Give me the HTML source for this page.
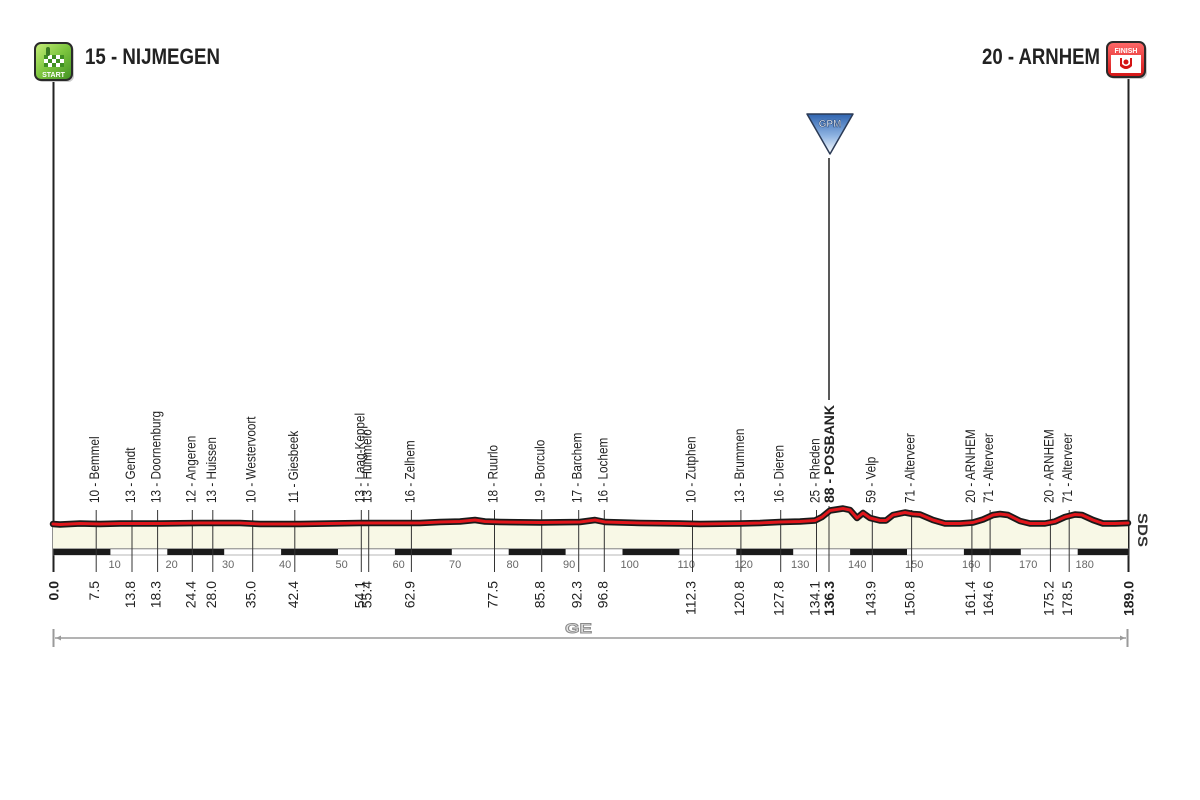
<!DOCTYPE html>
<html>
<head>
<meta charset="utf-8">
<style>
html,body{margin:0;padding:0;background:#fff;}
svg{display:block;}
text{font-family:"Liberation Sans",sans-serif;}
.pn{font-size:14px;fill:#222;}
.nm{font-size:14px;fill:#222;}
.km{font-size:11px;fill:#666;}
</style>
</head>
<body>
<svg width="1200" height="800" viewBox="0 0 1200 800" xmlns="http://www.w3.org/2000/svg">
<defs>
<linearGradient id="gG" x1="0" y1="0" x2="1" y2="1">
<stop offset="0" stop-color="#c8ef7a"/><stop offset="0.5" stop-color="#7cc53e"/><stop offset="1" stop-color="#3f8f22"/>
</linearGradient>
<linearGradient id="gR" x1="0" y1="0" x2="0" y2="1">
<stop offset="0" stop-color="#ff6a6a"/><stop offset="1" stop-color="#d41414"/>
</linearGradient>
<linearGradient id="gB" x1="0" y1="0" x2="0" y2="1">
<stop offset="0" stop-color="#2f64b0"/><stop offset="0.55" stop-color="#8fb4e2"/><stop offset="1" stop-color="#ffffff"/>
</linearGradient>
</defs>

<!-- start / finish vertical lines -->
<line x1="53.5" y1="82" x2="53.5" y2="572" stroke="#222" stroke-width="2"/>
<line x1="1128.5" y1="79" x2="1128.5" y2="572" stroke="#222" stroke-width="2"/>

<!-- start icon -->
<rect x="37" y="45" width="37" height="37" rx="6" fill="#999" opacity="0.5"/>
<rect x="35" y="43" width="37" height="37" rx="6" fill="url(#gG)" stroke="#2a2a2a" stroke-width="2"/>
<g>
<rect x="44" y="55" width="20" height="12" fill="#fff"/>
<rect x="44" y="55" width="4" height="4" fill="#3f8f22"/><rect x="52" y="55" width="4" height="4" fill="#3f8f22"/><rect x="60" y="55" width="4" height="4" fill="#3f8f22"/>
<rect x="48" y="59" width="4" height="4" fill="#3f8f22"/><rect x="56" y="59" width="4" height="4" fill="#3f8f22"/>
<rect x="44" y="63" width="4" height="4" fill="#3f8f22"/><rect x="52" y="63" width="4" height="4" fill="#3f8f22"/><rect x="60" y="63" width="4" height="4" fill="#3f8f22"/>
<rect x="46" y="47" width="4" height="9" rx="2" fill="#3a7a22"/>
</g>
<text x="53.5" y="77" font-size="7" font-weight="bold" fill="#fff" text-anchor="middle">START</text>

<!-- finish icon -->
<rect x="1109" y="44" width="38" height="35" rx="6" fill="#999" opacity="0.5"/>
<rect x="1107" y="42" width="38" height="35" rx="6" fill="url(#gR)" stroke="#2a2a2a" stroke-width="2"/>
<rect x="1111" y="55" width="30" height="18" fill="#fff"/>
<text x="1126" y="53" font-size="7" font-weight="bold" fill="#fff" text-anchor="middle">FINISH</text>
<path d="M1120 58 L1120 66 Q1126 72 1132 66 L1132 58 L1130 58 L1130 64 Q1126 68 1122 64 L1122 58 Z" fill="#d41414"/>
<circle cx="1126" cy="62" r="2.5" fill="#d41414"/>

<!-- titles -->
<text x="85" y="64" font-size="22" font-weight="bold" fill="#222" textLength="135" lengthAdjust="spacingAndGlyphs">15 - NIJMEGEN</text>
<text x="982" y="64" font-size="22" font-weight="bold" fill="#222" textLength="118" lengthAdjust="spacingAndGlyphs">20 - ARNHEM</text>

<!-- GPM -->
<polygon points="807,114 853,114 830,154" fill="url(#gB)" stroke="#2b3a55" stroke-width="1.5" stroke-linejoin="round"/>
<text x="830" y="127" font-size="10" font-weight="bold" fill="#fff" stroke="#2b4a7a" stroke-width="0.6" text-anchor="middle">GPM</text>
<line x1="829" y1="158" x2="829" y2="400" stroke="#222" stroke-width="1.5"/>

<!-- profile fill -->
<polygon fill="#f8f8e6" points="53,524 60,524.5 80,523.5 100,524 120,523.5 160,523.5 200,523 240,523 260,524 300,524 330,523.5 360,523 400,523 420,523 440,522 460,521.5 475,520 485,521.5 500,522 540,522.5 580,522 595,520 605,522 640,523 680,523.5 700,524 740,523.5 760,523 780,522 800,521.5 815,520.5 822,517 830,510.5 843,508.5 850,510 857,518 863,513 870,518 880,520.5 886,520.5 893,515 900,513.5 905,512.5 913,514 920,514.5 933,520 945,523.5 960,523.5 973,522.5 983,519.5 993,515 1000,514 1008,515 1020,521 1030,523.5 1045,523.5 1055,521.5 1065,517 1075,514.5 1082,515 1093,520 1103,523.5 1115,523.5 1128,523 1128,549 53,549"/>
<line x1="53" y1="548.5" x2="1128" y2="548.5" stroke="#999" stroke-width="0.8"/>

<!-- km bar -->
<rect x="53.5" y="549" width="1075" height="6" fill="#fff" stroke="#888" stroke-width="0.6"/>
<g fill="#1a1a1a">
<rect x="53.5" y="549" width="56.9" height="6"/>
<rect x="167.3" y="549" width="56.9" height="6"/>
<rect x="281.1" y="549" width="56.9" height="6"/>
<rect x="394.9" y="549" width="56.9" height="6"/>
<rect x="508.7" y="549" width="56.9" height="6"/>
<rect x="622.5" y="549" width="56.9" height="6"/>
<rect x="736.3" y="549" width="56.9" height="6"/>
<rect x="850.1" y="549" width="56.9" height="6"/>
<rect x="963.9" y="549" width="56.9" height="6"/>
<rect x="1077.7" y="549" width="51" height="6"/>
</g>

<!-- km numbers -->
<g class="km">
<text x="108.5" y="568">10</text>
<text x="165.5" y="568">20</text>
<text x="279" y="568" >40</text>
<text x="222" y="568">30</text>
<text x="335.5" y="568">50</text>
<text x="392.5" y="568">60</text>
<text x="449" y="568">70</text>
<text x="506.5" y="568">80</text>
<text x="563" y="568">90</text>
<text x="620.5" y="568">100</text>
<text x="677.5" y="568">110</text>
<text x="734.5" y="568">120</text>
<text x="791" y="568">130</text>
<text x="848" y="568">140</text>
<text x="905" y="568">150</text>
<text x="962" y="568">160</text>
<text x="1019" y="568">170</text>
<text x="1075.5" y="568">180</text>
</g>

<!-- tick lines -->
<g stroke="#333" stroke-width="1">
<line x1="96.2" y1="510" x2="96.2" y2="572"/>
<line x1="132" y1="510" x2="132" y2="572"/>
<line x1="157.6" y1="510" x2="157.6" y2="572"/>
<line x1="192.3" y1="510" x2="192.3" y2="572"/>
<line x1="212.8" y1="510" x2="212.8" y2="572"/>
<line x1="252.7" y1="510" x2="252.7" y2="572"/>
<line x1="294.8" y1="510" x2="294.8" y2="572"/>
<line x1="361.3" y1="510" x2="361.3" y2="572"/>
<line x1="368.7" y1="510" x2="368.7" y2="572"/>
<line x1="411.4" y1="510" x2="411.4" y2="572"/>
<line x1="494.5" y1="510" x2="494.5" y2="572"/>
<line x1="541.7" y1="510" x2="541.7" y2="572"/>
<line x1="578.7" y1="510" x2="578.7" y2="572"/>
<line x1="604.3" y1="510" x2="604.3" y2="572"/>
<line x1="692.5" y1="510" x2="692.5" y2="572"/>
<line x1="740.9" y1="510" x2="740.9" y2="572"/>
<line x1="780.7" y1="510" x2="780.7" y2="572"/>
<line x1="816.5" y1="510" x2="816.5" y2="572"/>
<line x1="829" y1="506" x2="829" y2="572"/>
<line x1="872.3" y1="510" x2="872.3" y2="572"/>
<line x1="911.6" y1="510" x2="911.6" y2="572"/>
<line x1="971.9" y1="510" x2="971.9" y2="572"/>
<line x1="990.1" y1="510" x2="990.1" y2="572"/>
<line x1="1050.4" y1="510" x2="1050.4" y2="572"/>
<line x1="1069.2" y1="510" x2="1069.2" y2="572"/>
</g>

<!-- profile line -->
<polyline fill="none" stroke="#1a1a1a" stroke-width="6.5" stroke-linejoin="round" stroke-linecap="round" points="53,524 60,524.5 80,523.5 100,524 120,523.5 160,523.5 200,523 240,523 260,524 300,524 330,523.5 360,523 400,523 420,523 440,522 460,521.5 475,520 485,521.5 500,522 540,522.5 580,522 595,520 605,522 640,523 680,523.5 700,524 740,523.5 760,523 780,522 800,521.5 815,520.5 822,517 830,510.5 843,508.5 850,510 857,518 863,513 870,518 880,520.5 886,520.5 893,515 900,513.5 905,512.5 913,514 920,514.5 933,520 945,523.5 960,523.5 973,522.5 983,519.5 993,515 1000,514 1008,515 1020,521 1030,523.5 1045,523.5 1055,521.5 1065,517 1075,514.5 1082,515 1093,520 1103,523.5 1115,523.5 1128,523"/>
<polyline fill="none" stroke="#e0161b" stroke-width="3" stroke-linejoin="round" stroke-linecap="round" points="53,524 60,524.5 80,523.5 100,524 120,523.5 160,523.5 200,523 240,523 260,524 300,524 330,523.5 360,523 400,523 420,523 440,522 460,521.5 475,520 485,521.5 500,522 540,522.5 580,522 595,520 605,522 640,523 680,523.5 700,524 740,523.5 760,523 780,522 800,521.5 815,520.5 822,517 830,510.5 843,508.5 850,510 857,518 863,513 870,518 880,520.5 886,520.5 893,515 900,513.5 905,512.5 913,514 920,514.5 933,520 945,523.5 960,523.5 973,522.5 983,519.5 993,515 1000,514 1008,515 1020,521 1030,523.5 1045,523.5 1055,521.5 1065,517 1075,514.5 1082,515 1093,520 1103,523.5 1115,523.5 1128,523"/>

<!-- place names -->
<g class="pn">
<text transform="translate(99.2,503) rotate(-90) scale(0.84,1)">10 - Bemmel</text>
<text transform="translate(135,503) rotate(-90) scale(0.84,1)">13 - Gendt</text>
<text transform="translate(160.6,503) rotate(-90) scale(0.84,1)">13 - Doornenburg</text>
<text transform="translate(195.3,503) rotate(-90) scale(0.84,1)">12 - Angeren</text>
<text transform="translate(215.8,503) rotate(-90) scale(0.84,1)">13 - Huissen</text>
<text transform="translate(255.7,503) rotate(-90) scale(0.84,1)">10 - Westervoort</text>
<text transform="translate(297.8,503) rotate(-90) scale(0.84,1)">11 - Giesbeek</text>
<text transform="translate(364.3,503) rotate(-90) scale(0.84,1)">13 - Laag-Keppel</text>
<text transform="translate(371.7,503) rotate(-90) scale(0.84,1)">13 - Hummelo</text>
<text transform="translate(414.4,503) rotate(-90) scale(0.84,1)">16 - Zelhem</text>
<text transform="translate(497.5,503) rotate(-90) scale(0.84,1)">18 - Ruurlo</text>
<text transform="translate(544.7,503) rotate(-90) scale(0.84,1)">19 - Borculo</text>
<text transform="translate(581.7,503) rotate(-90) scale(0.84,1)">17 - Barchem</text>
<text transform="translate(607.3,503) rotate(-90) scale(0.84,1)">16 - Lochem</text>
<text transform="translate(695.5,503) rotate(-90) scale(0.84,1)">10 - Zutphen</text>
<text transform="translate(743.9,503) rotate(-90) scale(0.84,1)">13 - Brummen</text>
<text transform="translate(783.7,503) rotate(-90) scale(0.84,1)">16 - Dieren</text>
<text transform="translate(819.5,503) rotate(-90) scale(0.84,1)">25 - Rheden</text>
<text transform="translate(834,503) rotate(-90)" font-weight="bold">88 - POSBANK</text>
<text transform="translate(875.3,503) rotate(-90) scale(0.84,1)">59 - Velp</text>
<text transform="translate(914.6,503) rotate(-90) scale(0.84,1)">71 - Alterveer</text>
<text transform="translate(974.9,503) rotate(-90) scale(0.84,1)">20 - ARNHEM</text>
<text transform="translate(993.1,503) rotate(-90) scale(0.84,1)">71 - Alterveer</text>
<text transform="translate(1053.4,503) rotate(-90) scale(0.84,1)">20 - ARNHEM</text>
<text transform="translate(1072.2,503) rotate(-90) scale(0.84,1)">71 - Alterveer</text>
</g>

<!-- distance numbers -->
<g class="nm" text-anchor="end">
<text transform="translate(58.5,581) rotate(-90)" font-weight="bold">0.0</text>
<text transform="translate(99.2,581) rotate(-90)">7.5</text>
<text transform="translate(135,581) rotate(-90)">13.8</text>
<text transform="translate(160.6,581) rotate(-90)">18.3</text>
<text transform="translate(195.3,581) rotate(-90)">24.4</text>
<text transform="translate(215.8,581) rotate(-90)">28.0</text>
<text transform="translate(255.7,581) rotate(-90)">35.0</text>
<text transform="translate(297.8,581) rotate(-90)">42.4</text>
<text transform="translate(364.3,581) rotate(-90)">54.1</text>
<text transform="translate(371.7,581) rotate(-90)">55.4</text>
<text transform="translate(414.4,581) rotate(-90)">62.9</text>
<text transform="translate(497.5,581) rotate(-90)">77.5</text>
<text transform="translate(544.7,581) rotate(-90)">85.8</text>
<text transform="translate(581.7,581) rotate(-90)">92.3</text>
<text transform="translate(607.3,581) rotate(-90)">96.8</text>
<text transform="translate(695.5,581) rotate(-90)">112.3</text>
<text transform="translate(743.9,581) rotate(-90)">120.8</text>
<text transform="translate(783.7,581) rotate(-90)">127.8</text>
<text transform="translate(819.5,581) rotate(-90)">134.1</text>
<text transform="translate(834,581) rotate(-90)" font-weight="bold">136.3</text>
<text transform="translate(875.3,581) rotate(-90)">143.9</text>
<text transform="translate(914.6,581) rotate(-90)">150.8</text>
<text transform="translate(974.9,581) rotate(-90)">161.4</text>
<text transform="translate(993.1,581) rotate(-90)">164.6</text>
<text transform="translate(1053.4,581) rotate(-90)">175.2</text>
<text transform="translate(1072.2,581) rotate(-90)">178.5</text>
<text transform="translate(1133.5,581) rotate(-90)" font-weight="bold">189.0</text>
</g>

<!-- SDS -->
<text transform="translate(1138,530) rotate(90)" font-size="14" font-weight="bold" fill="#333" text-anchor="middle" textLength="34" lengthAdjust="spacingAndGlyphs">SDS</text>

<!-- GE bottom line -->
<line x1="55" y1="638" x2="1126" y2="638" stroke="#9a9a9a" stroke-width="1.5"/>
<line x1="53.5" y1="629" x2="53.5" y2="647" stroke="#9a9a9a" stroke-width="2"/>
<line x1="1127.5" y1="629" x2="1127.5" y2="647" stroke="#9a9a9a" stroke-width="2"/>
<polygon points="56,638 61,635.5 61,640.5" fill="#9a9a9a"/>
<polygon points="1125,638 1120,635.5 1120,640.5" fill="#9a9a9a"/>
<text x="578.5" y="633" font-size="14" font-weight="bold" fill="#e6e6e6" stroke="#8a8a8a" stroke-width="0.9" text-anchor="middle" textLength="27" lengthAdjust="spacingAndGlyphs">GE</text>
</svg>
</body>
</html>
